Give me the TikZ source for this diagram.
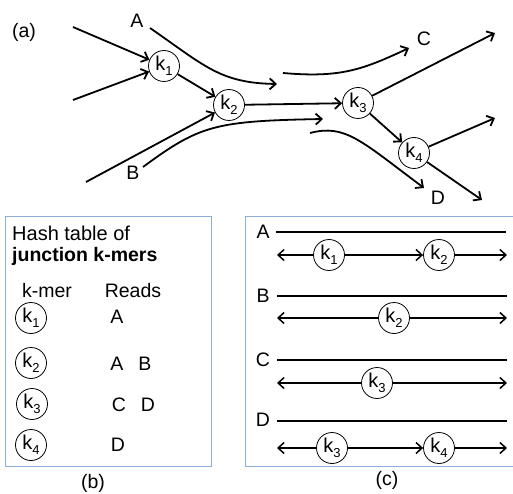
\documentclass[tikz,border=0pt]{standalone}
\usepackage{fontspec}
\setmainfont{Liberation Sans}
\usetikzlibrary{arrows.meta}
\definecolor{boxblue}{RGB}{140,175,215}
\newcommand\kk[1]{k\raisebox{-0.45ex}{\fontsize{13}{13}\selectfont #1}}
\tikzset{
  kmer/.style={circle,draw,line width=0.8pt,minimum size=31pt,inner sep=0pt,font=\fontsize{20}{20}\selectfont},
  lbl/.style={font=\fontsize{19.5}{19.5}\selectfont,inner sep=0pt},
  flow/.style={line width=1.8pt,-{Straight Barb[length=6pt,width=11pt,line width=1.8pt]}},
  rd/.style={line width=1.7pt},
  rdarr/.style={line width=1.4pt,-{Straight Barb[length=6pt,width=11pt,line width=1.5pt]}},
  panel/.style={draw=boxblue,line width=1pt}
}
\begin{document}
\begin{tikzpicture}[x=1pt,y=-1pt]
\path[use as bounding box] (0,0) rectangle (513,494);
% ---------- (a)
\node[lbl] (la) at (24,32) {(a)};
\node[kmer] (a1) at (164,66) {\kk1};
\node[kmer] (a2) at (229,105) {\kk2};
\node[kmer] (a3) at (358,103) {\kk3};
\node[kmer] (a4) at (414,153) {\kk4};
\coordinate (i1) at (73,27);
\coordinate (i2) at (73,100);
\coordinate (i3) at (86,182);
\coordinate (o1) at (495,33);
\coordinate (o2) at (495,118);
\coordinate (o3) at (482,200);
\draw[flow] (i1) -- (a1);
\draw[flow] (i2) -- (a1);
\draw[flow] (a1) -- (a2);
\draw[flow] (i3) -- (a2);
\draw[flow] (a2) -- (a3);
\draw[flow] (a3) -- (o1);
\draw[flow] (a3) -- (a4);
\draw[flow] (a4) -- (o2);
\draw[flow] (a4) -- (o3);
\node[lbl] (lA) at (137,21) {A};
\node[lbl] (lB) at (133,173) {B};
\node[lbl] (lC) at (424,39) {C};
\node[lbl] (lD) at (438,198) {D};
\coordinate (cA0) at (150,28);
\coordinate (cA1) at (277,84);
\coordinate (cB0) at (143,167);
\coordinate (cB1) at (323,119);
\coordinate (cC0) at (283,73);
\coordinate (cC1) at (409,48);
\coordinate (cD0) at (310,133);
\coordinate (cD1) at (424,188);
\draw[flow] (cA0) .. controls (205,66) and (220,83) .. (cA1);
\draw[flow] (cB0) .. controls (200,125) and (215,121) .. (cB1);
\draw[flow] (cC0) .. controls (340,78) and (362,70) .. (cC1);
\draw[flow] (cD0) .. controls (345,124) and (360,140) .. (cD1);
% ---------- (b)
\draw[panel] (5,216) rectangle (211,466);
\node[lbl,anchor=west,font=\fontsize{20}{20}\selectfont] (h1) at (12,233) {Hash table of};
\node[lbl,anchor=west,font=\fontsize{19.5}{19.5}\bfseries] (h2) at (12,256) {junction k-mers};
\node[lbl] (hk) at (47,291) {k-mer};
\node[lbl] (hr) at (133,291) {Reads};
\node[kmer] (b1) at (31,318) {\kk1};
\node[kmer] (b2) at (31,363) {\kk2};
\node[kmer] (b3) at (32,404) {\kk3};
\node[kmer] (b4) at (31,445) {\kk4};
\node[lbl] (r1) at (117,317) {A};
\node[lbl] (r2a) at (117,364) {A};
\node[lbl] (r2b) at (145,364) {B};
\node[lbl] (r3a) at (119,405) {C};
\node[lbl] (r3b) at (148,405) {D};
\node[lbl] (r4) at (118,445) {D};
\node[lbl] (lb) at (93,483) {(b)};
% ---------- (c)
\draw[panel] (514,216) -- (245,216) -- (245,466) -- (514,466);
\node[lbl] (cl) at (387,480) {(c)};
% A
\node[lbl] (tA) at (263,232) {A};
\coordinate (A0) at (276,232); \coordinate (A1) at (506,232);
\draw[rd] (A0) -- (A1);
\coordinate (Al) at (277,255); \coordinate (Ar) at (507,255);
\node[kmer] (ck1) at (329,255) {\kk1};
\node[kmer] (ck2) at (439,255) {\kk2};
\draw[rdarr] (ck1) -- (Al);
\draw[rdarr] (ck1) -- (ck2);
\draw[rdarr] (ck2) -- (Ar);
% B
\node[lbl] (tB) at (263,296) {B};
\coordinate (B0) at (277,296); \coordinate (B1) at (507,296);
\draw[rd] (B0) -- (B1);
\coordinate (Bl) at (277,318); \coordinate (Br) at (507,318);
\node[kmer] (cb2) at (394,318) {\kk2};
\draw[rdarr] (cb2) -- (Bl);
\draw[rdarr] (cb2) -- (Br);
% C
\node[lbl] (tC) at (263,360) {C};
\coordinate (C0) at (277,360); \coordinate (C1) at (507,360);
\draw[rd] (C0) -- (C1);
\coordinate (Cl) at (277,383); \coordinate (Cr) at (507,383);
\node[kmer] (cc3) at (377,383) {\kk3};
\draw[rdarr] (cc3) -- (Cl);
\draw[rdarr] (cc3) -- (Cr);
% D
\node[lbl] (tD) at (263,420) {D};
\coordinate (D0) at (277,421); \coordinate (D1) at (507,421);
\draw[rd] (D0) -- (D1);
\coordinate (Dl) at (277,448); \coordinate (Dr) at (507,448);
\node[kmer] (cd3) at (332,448) {\kk3};
\node[kmer] (cd4) at (439,448) {\kk4};
\draw[rdarr] (cd3) -- (Dl);
\draw[rdarr] (cd3) -- (cd4);
\draw[rdarr] (cd4) -- (Dr);
\end{tikzpicture}
\end{document}
